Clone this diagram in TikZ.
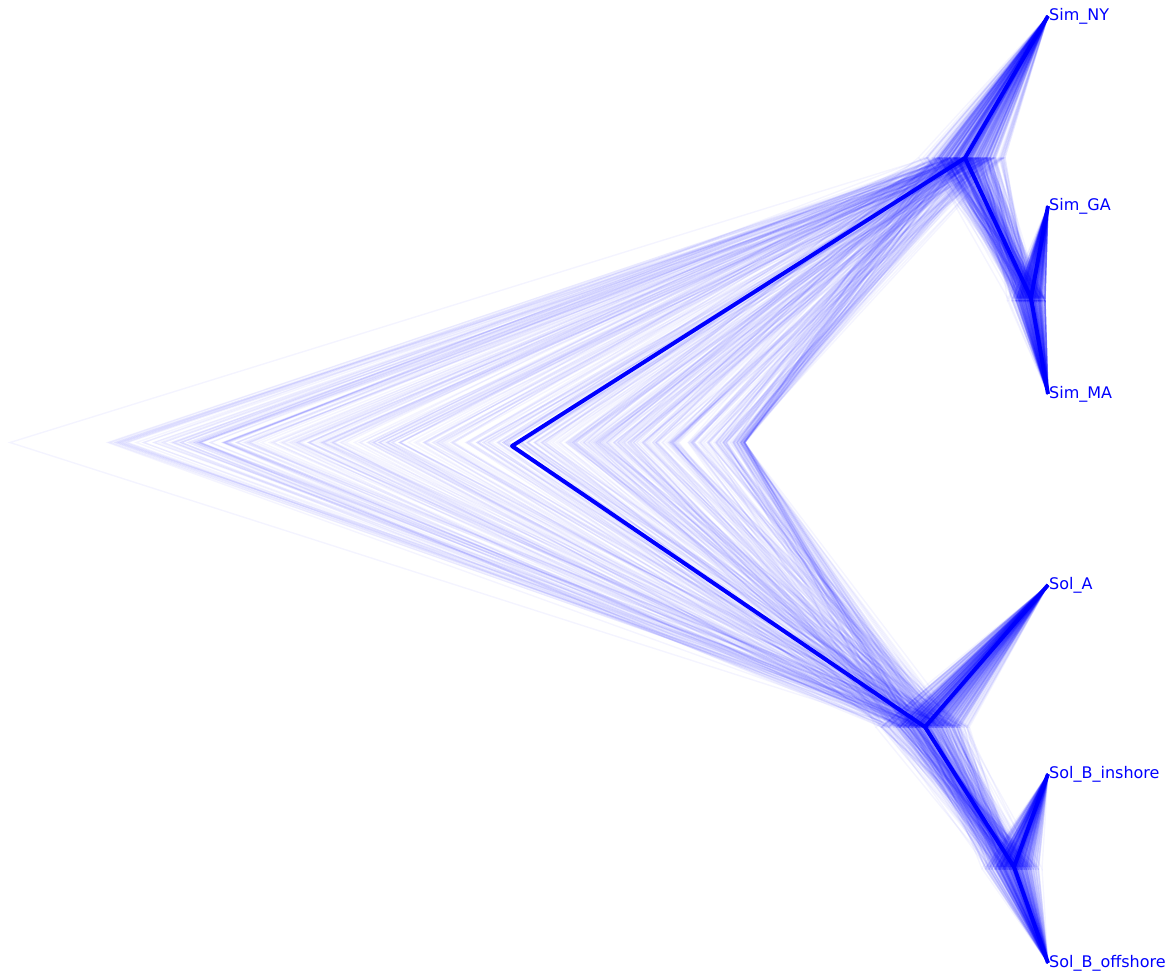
\documentclass[tikz,border=0pt]{standalone}
\usepackage{fontspec}
\setmainfont{DejaVu Sans}

\tikzset{
  tree/.style={blue, line width=1.4pt, opacity=0.045},
  constree/.style={blue, line width=4pt, line join=round},
  taxon/.style={anchor=west, text=blue, inner sep=1pt, font=\fontsize{16}{19}\selectfont},
}

\begin{document}
\begin{tikzpicture}[x=1pt, y=-1pt]
 \useasboundingbox (0,0) rectangle (1173,976);
 % tips
 \coordinate (ny) at (1048,16);
 \coordinate (ga) at (1048,206);
 \coordinate (ma) at (1048,394);
 \coordinate (sa) at (1048,585);
 \coordinate (bi) at (1048,774);
 \coordinate (bo) at (1048,963);
 % sampled trees
 \pgfmathsetseed{7}
 \foreach \i in {1,...,450}{
  \pgfmathsetmacro{\rx}{745-640*rnd^1.8}
  \pgfmathsetmacro{\sx}{965+36*(rnd+rnd+rnd-1.5)}
  \pgfmathsetmacro{\gx}{min(1045,max(\sx+8,1030+18*(rnd+rnd+rnd-1.5)))}
  \pgfmathsetmacro{\ox}{925+40*(rnd+rnd+rnd-1.5)}
  \pgfmathsetmacro{\bx}{min(1042,max(\ox+8,1013+24*(rnd+rnd+rnd-1.5)))}
  \draw[tree] (ny) -- (\sx,157.5) -- (\rx,442.5) -- (\ox,727) -- (sa);
  \draw[tree] (\sx,157.5) -- (\gx,300) -- (ga);
  \draw[tree] (\gx,300) -- (ma);
  \draw[tree] (\ox,727) -- (\bx,868.5) -- (bi);
  \draw[tree] (\bx,868.5) -- (bo);
 }
 \draw[tree] (ny) -- (930,157.5) -- (10,442.5) -- (900,727) -- (sa);
 % consensus tree
 \coordinate (root) at (512,446);
 \coordinate (sim) at (965,158);
 \coordinate (gama) at (1031,298);
 \coordinate (sol) at (925,727);
 \coordinate (solb) at (1014,867);
 \draw[constree] (ny) -- (sim) -- (root) -- (sol) -- (sa);
 \draw[constree] (sim) -- (gama) -- (ga);
 \draw[constree] (gama) -- (ma);
 \draw[constree] (sol) -- (solb) -- (bi);
 \draw[constree] (solb) -- (bo);
 % labels
 \node[taxon] (nylab) at (ny) {Sim\_NY};
 \node[taxon] (galab) at (ga) {Sim\_GA};
 \node[taxon] (malab) at (ma) {Sim\_MA};
 \node[taxon] (salab) at (sa) {Sol\_A};
 \node[taxon] (bilab) at (bi) {Sol\_B\_inshore};
 \node[taxon] (bolab) at (bo) {Sol\_B\_offshore};
\end{tikzpicture}
\end{document}
